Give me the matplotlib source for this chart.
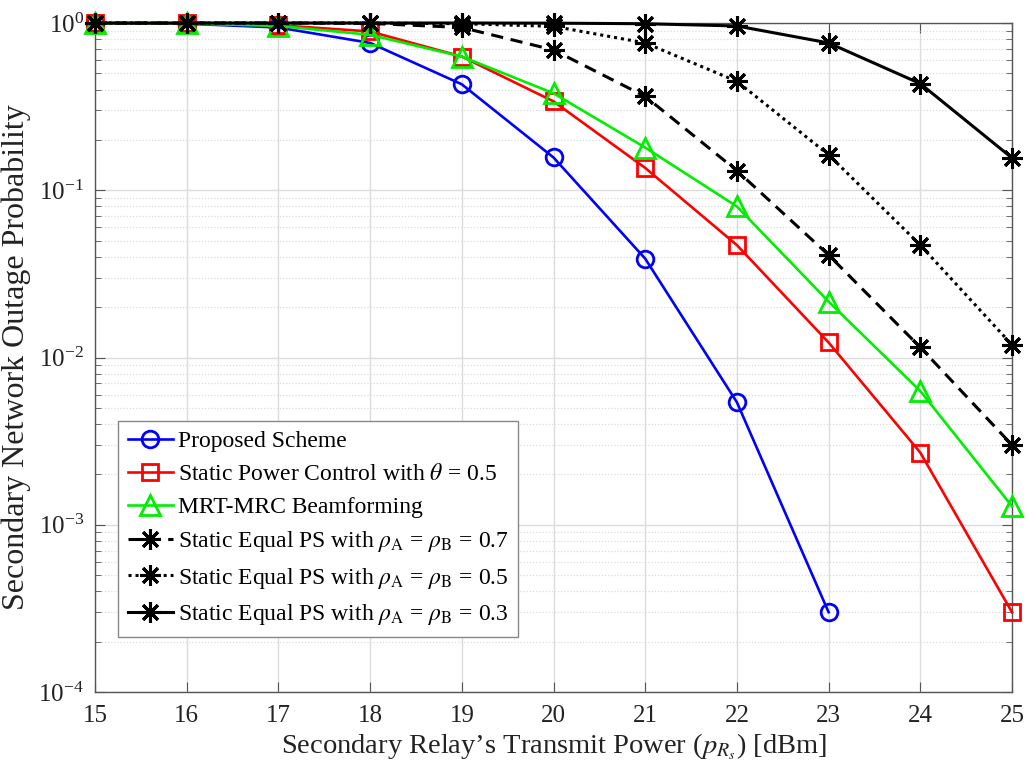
import numpy as np
import matplotlib
matplotlib.use("Agg")
import matplotlib.pyplot as plt
from matplotlib.ticker import LogLocator, NullFormatter, FixedLocator

plt.rcParams['font.family'] = ['Liberation Serif', 'DejaVu Serif']
plt.rcParams['mathtext.fontset'] = 'stix'

power = [15, 16, 17, 18, 19, 20, 21, 22, 23, 24, 25]

proposed_x = [15, 16, 17, 18, 19, 20, 21, 22, 23]
proposed = [0.995, 0.99, 0.94, 0.76, 0.43, 0.157, 0.039, 0.0054, 3.0e-4]

static_pc = [0.998, 0.995, 0.97, 0.89, 0.63, 0.34, 0.136, 0.047, 0.0123, 0.0027, 3.0e-4]
mrt_mrc = [0.998, 0.995, 0.96, 0.85, 0.63, 0.38, 0.18, 0.080, 0.0216, 0.0063, 0.00129]
ps_07 = [1.0, 1.0, 1.0, 0.995, 0.94, 0.69, 0.364, 0.131, 0.041, 0.0115, 0.0030]
ps_05 = [1.0, 1.0, 1.0, 1.0, 0.99, 0.955, 0.76, 0.448, 0.163, 0.047, 0.0119]
ps_03 = [1.0, 1.0, 1.0, 1.0, 1.0, 0.998, 0.99, 0.96, 0.76, 0.434, 0.156]

labels = [
    "Proposed Scheme",
    r"Static Power Control with $\theta$ = 0.5",
    "MRT-MRC Beamforming",
    r"Static Equal PS with $\rho_{\mathrm{A}}$ = $\rho_{\mathrm{B}}$ = 0.7",
    r"Static Equal PS with $\rho_{\mathrm{A}}$ = $\rho_{\mathrm{B}}$ = 0.5",
    r"Static Equal PS with $\rho_{\mathrm{A}}$ = $\rho_{\mathrm{B}}$ = 0.3",
]

fig = plt.figure(figsize=(10.26, 7.66), dpi=100)
ax = fig.add_axes([95/1026, 1 - 692/766, (1012-95)/1026, (692-23)/766])

lw = 1.9
ms = 12
mew = 2.0
star = (8, 2, 0)
common = dict(clip_on=False)
ax.plot(proposed_x, proposed, '-', color='#0000ff', lw=lw, marker='o', ms=ms,
        mfc='none', mew=mew, label=labels[0], zorder=3, **common)
ax.plot(power, static_pc, '-', color='#ff0000', lw=lw, marker='s', ms=ms-1,
        mfc='none', mew=mew, label=labels[1], zorder=3, **common)
ax.plot(power, mrt_mrc, '-', color='#00ee00', lw=lw, marker='^', ms=ms+2,
        mfc='none', mew=mew, label=labels[2], zorder=3, **common)
ax.plot(power, ps_07, '--', color='black', lw=lw+0.3, marker=star, ms=15,
        mew=2.2, label=labels[3], zorder=4, dashes=(4, 2.5), **common)
ax.plot(power, ps_05, ':', color='black', lw=lw+0.3, marker=star, ms=15,
        mew=2.2, label=labels[4], zorder=4, dashes=(1, 1.3), **common)
ax.plot(power, ps_03, '-', color='black', lw=lw+0.3, marker=star, ms=15,
        mew=2.2, label=labels[5], zorder=4, **common)

ax.set_yscale('log')
ax.set_xlim(15, 25)
ax.set_ylim(1e-4, 1)
ax.set_xticks(power)
ax.set_xticklabels([str(p) for p in power])
ax.yaxis.set_major_locator(FixedLocator([1e-4, 1e-3, 1e-2, 1e-1, 1]))
ax.yaxis.set_minor_locator(LogLocator(base=10, subs=np.arange(2, 10), numticks=20))
ax.yaxis.set_minor_formatter(NullFormatter())

ax.grid(True, which='major', color='#dcdcdc', lw=1.0, ls='-')
ax.grid(True, which='minor', axis='y', color='#dcdcdc', lw=0.9, ls=(0, (1, 1.5)))
ax.set_axisbelow(True)

for s in ax.spines.values():
    s.set_color('#555555')
    s.set_linewidth(1.0)
ax.tick_params(which='both', direction='in', top=True, right=True, color='#555555',
               labelsize=18, labelcolor='#222222')
ax.tick_params(which='major', length=7)
ax.tick_params(which='minor', length=4)
ax.tick_params(axis='x', pad=9)
ax.tick_params(axis='y', pad=8)

ax.set_xlabel(r"Secondary Relay’s Transmit Power ($p_{R_s}$) [dBm]", fontsize=20.5,
              color='#222222', labelpad=4)
ax.set_ylabel("Secondary Network Outage Probability", fontsize=23, color='#222222',
              labelpad=5)

leg = ax.legend(loc='lower left', bbox_to_anchor=(23/917, 55/669), fontsize=17,
                numpoints=1, handlelength=1.9, handletextpad=0.2, labelspacing=0.48,
                borderpad=0.42, borderaxespad=0.0, fancybox=False, framealpha=1,
                edgecolor='#888888')
leg.get_frame().set_linewidth(1.0)

fig.savefig('out.png', dpi=100)
